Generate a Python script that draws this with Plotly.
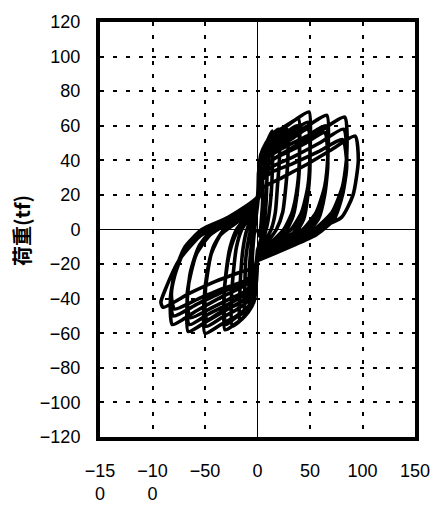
import plotly.graph_objects as go

# Displacement (mm) / load (tf) history, read cycle by cycle from the picture.
# Each cycle: positive excursion then negative excursion.
disp_c01 = [0, 2, 4, 5, 5, 3, 1, 0, -2, -4, -5, -5, -3, -1, 0]
load_c01 = [0, -4, 8, 18, 30, 26, 20, 14, 4, -8, -18, -28, -24, -18, -12]

disp_c02 = [0, 3, 6, 8, 9, 9, 6, 3, 1, 0, -3, -5, -7, -8, -8, -5, -3, -1, 0]
load_c02 = [-12, -6, 2, 14, 30, 48, 44, 38, 28, 17, 6, -4, -16, -30, -42, -38, -32, -24, -14]

disp_c03 = [0, 5, 9, 12, 14, 14, 10, 5, 2, 0, -4, -8, -11, -12, -12, -8, -4, -1, 0]
load_c03 = [-12, -6, 2, 14, 32, 57, 52, 46, 34, 18, 6, -4, -16, -32, -50, -46, -40, -28, -15]

disp_c04 = [0, 7, 13, 17, 19, 21, 20, 14, 8, 3, 1, 0, -8, -15, -20, -23, -25, -24, -17, -9, -3, -1, 0]
load_c04 = [-14, -7, 0, 10, 25, 42, 58, 55, 50, 43, 31, 18, 7, 0, -10, -25, -42, -56, -53, -48, -41, -29, -16]

disp_c05 = [0, 10, 18, 24, 27, 29, 28, 20, 11, 4, 1, 0, -6, -11, -14, -16, -17, -17, -12, -6, -2, 0]
load_c05 = [-15, -7, 0, 10, 25, 42, 58, 55, 51, 44, 32, 19, 7, -2, -12, -26, -40, -53, -50, -45, -32, -17]

disp_c06 = [0, 14, 25, 33, 38, 40, 39, 28, 16, 6, 1, 0, -11, -20, -26, -30, -32, -31, -22, -12, -4, -1, 0]
load_c06 = [-17, -7, 0, 10, 25, 43, 64, 60, 55, 47, 33, 19, 7, 0, -10, -25, -42, -58, -55, -50, -42, -30, -17]

disp_c07 = [0, 14, 26, 34, 38, 40, 38, 27, 15, 6, 1, 0, -11, -20, -26, -30, -32, -30, -21, -11, -4, -1, 0]
load_c07 = [-17, -8, -2, 8, 22, 40, 60, 56, 51, 44, 31, 18, 6, -2, -12, -26, -40, -55, -51, -47, -39, -28, -17]

disp_c08 = [0, 17, 32, 42, 48, 50, 49, 35, 20, 8, 2, 0, -17, -32, -42, -48, -51, -50, -35, -20, -8, -2, 0]
load_c08 = [-17, -7, 0, 10, 25, 44, 68, 63, 57, 49, 34, 19, 7, 0, -10, -25, -42, -60, -55, -50, -44, -31, -17]

disp_c09 = [0, 18, 34, 43, 48, 50, 48, 34, 19, 7, 1, 0, -18, -34, -43, -48, -50, -49, -34, -19, -7, -1, 0]
load_c09 = [-17, -8, -2, 8, 22, 40, 62, 57, 51, 44, 31, 18, 6, -2, -12, -26, -40, -56, -51, -46, -40, -29, -17]

disp_c10 = [0, 18, 35, 44, 48, 50, 48, 34, 19, 7, 1, 0, -18, -35, -44, -48, -50, -48, -33, -18, -7, -1, 0]
load_c10 = [-18, -9, -3, 6, 20, 38, 58, 53, 47, 41, 29, 18, 5, -3, -14, -27, -38, -52, -47, -43, -37, -27, -17]

disp_c11 = [0, 23, 43, 56, 64, 67, 66, 48, 28, 12, 3, 0, -23, -43, -56, -64, -67, -66, -48, -28, -12, -3, 0]
load_c11 = [-17, -7, 0, 10, 25, 43, 66, 60, 53, 46, 34, 19, 7, 0, -10, -25, -42, -59, -53, -46, -40, -30, -17]

disp_c12 = [0, 24, 44, 57, 64, 67, 65, 47, 27, 11, 2, 0, -24, -44, -57, -64, -67, -65, -47, -27, -11, -2, 0]
load_c12 = [-18, -8, -2, 8, 22, 40, 60, 54, 48, 42, 31, 18, 6, -2, -12, -26, -40, -55, -49, -43, -37, -28, -17]

disp_c13 = [0, 25, 45, 58, 64, 67, 64, 46, 26, 10, 2, 0, -25, -45, -58, -64, -67, -64, -46, -26, -10, -2, 0]
load_c13 = [-18, -9, -3, 6, 20, 38, 56, 50, 44, 39, 29, 18, 5, -3, -14, -27, -38, -51, -46, -40, -35, -27, -17]

disp_c14 = [0, 29, 54, 71, 81, 85, 83, 60, 35, 14, 3, 0, -28, -53, -69, -79, -83, -81, -58, -34, -14, -3, 0]
load_c14 = [-18, -8, 0, 10, 25, 43, 65, 57, 48, 40, 30, 19, 7, 0, -10, -25, -42, -55, -47, -39, -33, -27, -18]

disp_c15 = [0, 30, 55, 72, 81, 85, 82, 59, 34, 13, 2, 0, -29, -54, -70, -79, -83, -80, -57, -33, -13, -2, 0]
load_c15 = [-18, -9, -2, 8, 22, 40, 58, 50, 42, 36, 28, 18, 6, -2, -12, -26, -40, -50, -43, -36, -31, -26, -18]

disp_c16 = [0, 31, 56, 73, 81, 85, 81, 58, 33, 13, 2, 0, -30, -55, -71, -79, -82, -79, -56, -32, -13, -2, 0]
load_c16 = [-18, -10, -3, 6, 20, 37, 52, 45, 38, 33, 27, 18, 5, -3, -14, -27, -38, -46, -40, -34, -30, -25, -18]

disp_c17 = [0, 28, 55, 80, 91, 96, 93, 70, 45, 20, 5, 0, -26, -55, -75, -88, -92, -90, -65, -40, -18, -4, 0]
load_c17 = [-18, -8, 0, 7, 20, 40, 54, 46, 37, 29, 24, 17, 7, -4, -18, -35, -42, -45, -37, -30, -25, -22, -18]

cycles = [
    (disp_c01, load_c01), (disp_c02, load_c02), (disp_c03, load_c03),
    (disp_c04, load_c04), (disp_c05, load_c05), (disp_c06, load_c06),
    (disp_c07, load_c07), (disp_c08, load_c08), (disp_c09, load_c09),
    (disp_c10, load_c10), (disp_c11, load_c11), (disp_c12, load_c12),
    (disp_c13, load_c13), (disp_c14, load_c14), (disp_c15, load_c15),
    (disp_c16, load_c16), (disp_c17, load_c17),
]

x_tickvals = [-150, -100, -50, 0, 50, 100, 150]
x_ticktext = ["\u221215<br>0", "\u221210<br>0", "\u221250", "0", "50", "100", "150"]
y_tickvals = [-120, -100, -80, -60, -40, -20, 0, 20, 40, 60, 80, 100, 120]
y_ticktext = ["\u2212120", "\u2212100", "\u221280", "\u221260", "\u221240", "\u221220",
              "0", "20", "40", "60", "80", "100", "120"]

xs, ys = [], []
for dx, ly in cycles:
    xs.extend(dx)
    ys.extend(ly)

fig = go.Figure()
fig.add_trace(go.Scatter(
    x=xs, y=ys, mode="lines",
    line=dict(color="black", width=3.6, shape="spline", smoothing=0.6),
    showlegend=False, hoverinfo="skip",
))

tick_font = dict(family="Liberation Sans, Arial, sans-serif", size=18, color="black")

fig.update_layout(
    width=444, height=516,
    margin=dict(l=100, r=29, t=15, b=74),
    paper_bgcolor="white", plot_bgcolor="white",
    showlegend=False,
    xaxis=dict(
        range=[-150, 150], tickmode="array", tickvals=x_tickvals, ticktext=x_ticktext,
        showgrid=True, gridcolor="black", gridwidth=2, griddash="4px,9px",
        zeroline=True, zerolinecolor="black", zerolinewidth=1,
        showline=True, linecolor="black", linewidth=4, mirror=True,
        ticks="outside", ticklen=14, tickcolor="rgba(0,0,0,0)",
        tickfont=tick_font, fixedrange=True,
    ),
    yaxis=dict(
        range=[-120, 120], tickmode="array", tickvals=y_tickvals, ticktext=y_ticktext,
        showgrid=True, gridcolor="black", gridwidth=2, griddash="4px,9px",
        zeroline=True, zerolinecolor="black", zerolinewidth=1,
        showline=True, linecolor="black", linewidth=4, mirror=True,
        ticks="outside", ticklen=12, tickcolor="rgba(0,0,0,0)",
        tickfont=tick_font, fixedrange=True,
    ),
    annotations=[dict(
        text="荷重(tf)", textangle=-90, xref="paper", yref="paper",
        x=-78 / 315, y=(442 - 230) / 427, xanchor="center", yanchor="middle",
        showarrow=False,
        font=dict(family="Noto Sans CJK JP", size=20, color="black", weight="bold"),
    )],
)

fig.write_html("out.html")
